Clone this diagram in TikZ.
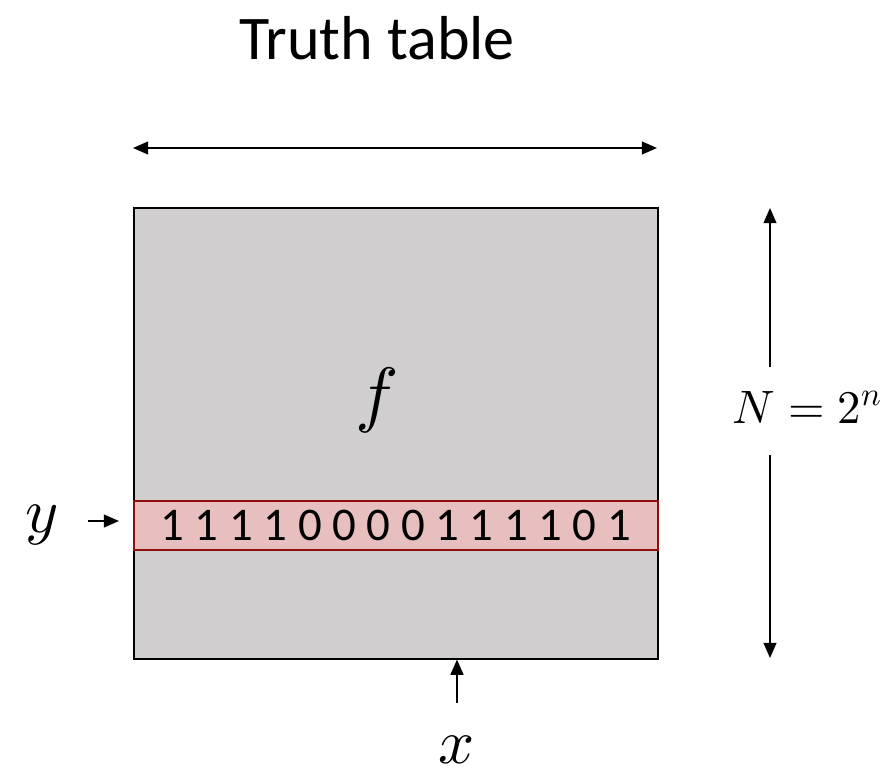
\documentclass[tikz,border=0pt]{standalone}
\usepackage{fontspec}
\usepackage{unicode-math}
\setmainfont{Carlito}
\setmathfont{Latin Modern Math}
\usetikzlibrary{arrows.meta}
\definecolor{tablegray}{HTML}{D0CECE}
\definecolor{rowpink}{HTML}{E8BFBF}
\definecolor{rowred}{HTML}{8E0E0E}
\tikzset{
  dimarrow/.style={line width=1.5pt},
  mathlabel/.style={font=\fontsize{54}{64}\selectfont, inner sep=0pt},
}
\begin{document}
\begin{tikzpicture}[x=0.03cm, y=-0.03cm, >={Triangle[length=13pt, width=11pt]}]
  \useasboundingbox (0,0) rectangle (882,777);
  % title
  \node[font=\fontsize{53}{64}\selectfont] (title) at (377,38) {Truth table};
  % table body and the highlighted row
  \node[draw, fill=tablegray, line width=1.3pt, anchor=north west, inner sep=0pt,
        minimum width=15.72cm, minimum height=13.53cm] (table) at (133,207) {};
  \node[mathlabel, font=\fontsize{62}{72}\selectfont] (f) at (377,400) {$f$};
  \node[draw=rowred, fill=rowpink, line width=1.3pt, anchor=north west, inner sep=0pt,
        minimum width=15.72cm, minimum height=1.47cm] (row) at (133,500) {};
  \node[font=\fontsize{40}{48}\selectfont] (bits) at (row.center) {1 1 1 1 0 0 0 0 1 1 1 1 0 1};
  % width arrow
  \coordinate (wleft) at (133,148);
  \coordinate (wright) at (657,148);
  \draw[dimarrow, <->] (wleft) -- (wright);
  % height arrow with label
  \node[mathlabel, font=\fontsize{40}{48}\selectfont] (nlabel) at (807,407) {$N=2^n$};
  \coordinate (htop) at (770,208);
  \coordinate (hgapa) at (770,367);
  \coordinate (hgapb) at (770,455);
  \coordinate (hbot) at (770,658);
  \draw[dimarrow, ->] (hgapa) -- (htop);
  \draw[dimarrow, ->] (hgapb) -- (hbot);
  % row index y
  \node[mathlabel] (ylabel) at (42,525) {$y$};
  \coordinate (ytail) at (88,521);
  \coordinate (ytip) at (119,521);
  \draw[dimarrow, ->] (ytail) -- (ytip);
  % column index x
  \node[mathlabel] (xlabel) at (457,750) {$x$};
  \coordinate (xtail) at (457,703);
  \draw[dimarrow, ->] (xtail) -- (table.south -| xtail);
\end{tikzpicture}
\end{document}
